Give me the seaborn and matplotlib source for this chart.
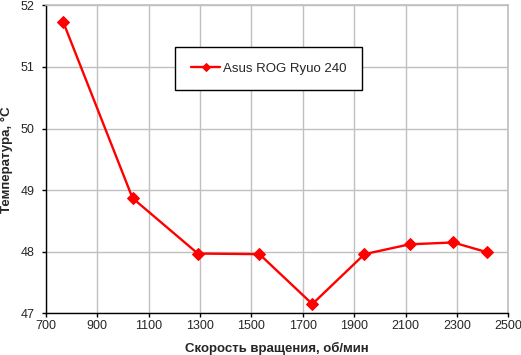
import pandas as pd
import seaborn as sns
import matplotlib.pyplot as plt

# fan speed (rpm) vs temperature (C)
speed = [767, 1037, 1291, 1531, 1737, 1940, 2116, 2286, 2418]
temperature = [51.73, 48.87, 47.97, 47.96, 47.15, 47.96, 48.12, 48.15, 47.99]
series_name = "Asus ROG Ryuo 240"

x_ticks = [700, 900, 1100, 1300, 1500, 1700, 1900, 2100, 2300, 2500]
y_ticks = [47, 48, 49, 50, 51, 52]

df = pd.DataFrame({"speed": speed, "temperature": temperature, "name": series_name})

sns.set_theme(style="ticks")
plt.rcParams['font.family'] = ['Liberation Sans', 'DejaVu Sans']

fig = plt.figure(figsize=(5.21, 3.55), dpi=100)
ax = fig.add_axes([0.0883, 0.1175, 0.8873, 0.8675])

sns.lineplot(data=df, x="speed", y="temperature", hue="name", palette=["#FF0000"],
             marker="D", markersize=6, markeredgecolor="#FF0000", linewidth=1.7,
             ax=ax, zorder=3)

ax.set_xlim(700, 2500)
ax.set_ylim(47, 52)
ax.set_xticks(x_ticks)
ax.set_yticks(y_ticks)
ax.grid(True, color="#C0C0C0", linewidth=1)
ax.set_axisbelow(True)

for side in ["top", "right"]:
    ax.spines[side].set_color("#C0C0C0")
for side in ["left", "bottom"]:
    ax.spines[side].set_color("black")
    ax.spines[side].set_linewidth(1)

ax.tick_params(axis="x", direction="out", length=3, width=1, color="black",
               labelsize=9, pad=2)
ax.tick_params(axis="y", direction="out", length=3, width=1, color="black",
               labelsize=9, pad=5.5)

ax.set_xlabel("Скорость вращения, об/мин", fontsize=9.5, fontweight="bold", labelpad=7)
ax.set_ylabel("Температура, °C", fontsize=9.5, fontweight="bold", labelpad=5)

leg = ax.legend(loc="center", bbox_to_anchor=(0.482, 0.795), fontsize=9.5,
                frameon=True, fancybox=False, edgecolor="black", framealpha=1,
                borderpad=1.2, handlelength=2.2, handletextpad=0.2, markerscale=0.75)
leg.get_frame().set_linewidth(1)

plt.savefig("out.png", dpi=100)
